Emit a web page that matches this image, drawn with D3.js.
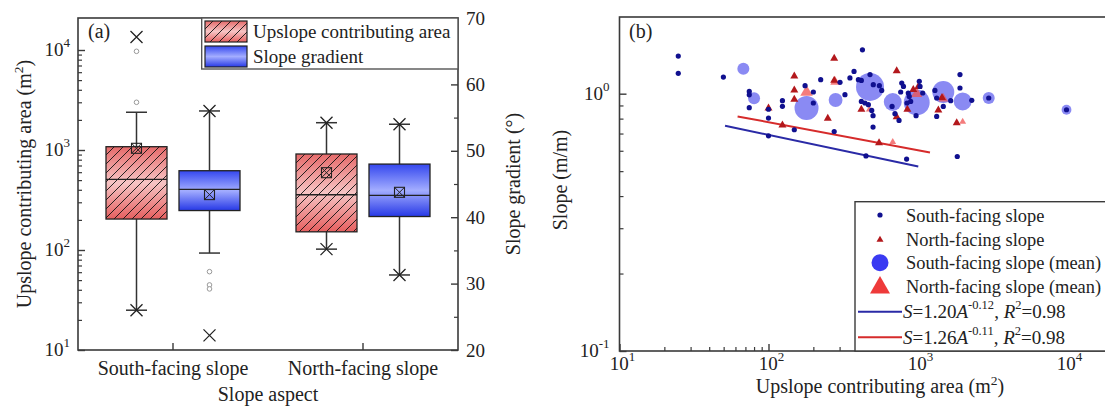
<!DOCTYPE html>
<html>
<head>
<meta charset="utf-8">
<script src="https://cdn.jsdelivr.net/npm/d3@7"></script>
<style>
  body { margin: 0; background: #fff; }
  text { font-family: "Liberation Serif", "Times New Roman", serif; fill: #222; }
</style>
</head>
<body>
<script>
// ---- panel (a) data: box statistics ----
const aspects = ['South-facing slope', 'North-facing slope'];

// upslope contributing area (m2), left log axis
const areaQ1 = [204, 152];
const areaMed = [509, 357];
const areaQ3 = [1079, 912];
const areaMean = [1040, 593];
const areaWhiskLo = [25, 102];
const areaWhiskHi = [2385, 1875];
const areaMin = [25, 102];
const areaMax = [13500, 1875];
const areaOutliers = [[9700, 3000], []];

// slope gradient (deg), right axis
const gradQ1 = [41.0, 40.1];
const gradMed = [44.2, 43.3];
const gradQ3 = [47.0, 48.0];
const gradMean = [43.4, 43.75];
const gradWhiskLo = [34.6, 31.3];
const gradWhiskHi = [56.0, 54.0];
const gradMin = [22.2, 31.3];
const gradMax = [56.0, 54.0];
const gradOutliers = [[31.8, 29.8, 29.2], []];

// ---- panel (b) data ----
const southA = [24.8, 24.8, 49.8, 74.3, 74.3, 74.3, 100, 100, 100, 124, 124, 149, 176, 200, 200, 224, 276, 302, 326, 352, 375, 401, 420, 427, 480, 505, 555, 575, 420, 444, 468, 493, 503, 503, 451, 675, 706, 752, 784, 805, 771, 867, 880, 900, 850, 1028, 1040, 1084, 978, 845, 1309, 1345, 1490, 1345, 1670, 1928, 1928, 2313, 1849, 3006, 10000];
const southS = [1.40, 1.20, 1.16, 1.02, 0.99, 0.882, 0.87, 0.804, 0.686, 0.939, 0.893, 0.724, 1.074, 1.015, 0.92, 1.134, 0.713, 1.107, 0.991, 1.151, 1.22, 1.134, 1.126, 1.48, 1.186, 1.084, 1.074, 1.03, 0.933, 0.92, 0.906, 0.861, 0.821, 0.742, 0.573, 0.892, 0.836, 0.787, 1.10, 1.067, 1.015, 1.006, 0.976, 0.933, 0.92, 1.117, 1.067, 1.006, 0.821, 0.557, 1.03, 0.962, 0.892, 0.816, 0.939, 1.186, 1.052, 0.942, 0.57, 0.962, 0.866];
const northA = [100, 149, 149, 149, 276, 250, 276, 725, 725, 855, 420, 124, 552, 937, 1012, 1380, 1833, 1460];
const northS = [0.882, 1.175, 1.036, 0.953, 1.377, 0.804, 1.13, 1.232, 0.816, 0.872, 0.872, 0.757, 0.646, 1.04, 1.07, 0.866, 0.773, 0.97];

const southMeanA = [67.8, 80, 180, 282, 480, 682, 988, 1490, 2010, 3006, 10000];
const southMeanS = [1.25, 0.96, 0.88, 0.945, 1.062, 0.928, 0.925, 1.015, 0.933, 0.962, 0.866];
const southMeanN = [9, 9, 36, 12, 49, 20, 42, 30, 20, 9, 6];
const northMeanA = [180, 280, 475, 682, 988, 1490, 2010];
const northMeanS = [1.02, 1.117, 0.872, 0.652, 1.006, 0.962, 0.78];
const northMeanN = [20, 12, 6, 6, 16, 12, 6];

// fitted lines, end points
const fitSouthA = [51.1, 1012];
const fitSouthS = [0.751, 0.521];
const fitNorthA = [62, 1213];
const fitNorthS = [0.816, 0.591];

const svg = d3.select('body').append('svg').attr('width', 1105).attr('height', 408);
const defs = svg.append('defs');

function vgrad(id, stops) {
  const g = defs.append('linearGradient').attr('id', id)
    .attr('x1', 0).attr('y1', 0).attr('x2', 0).attr('y2', 1);
  stops.forEach(s => g.append('stop').attr('offset', s[0]).attr('stop-color', s[1]));
}
vgrad('gradRed', [[0, '#e66a6a'], [0.5, '#f6c4c4'], [1, '#e65f5f']]);
vgrad('gradBlue', [[0, '#3447ee'], [0.5, '#a3adff'], [1, '#2638e6']]);

const hatch = defs.append('pattern').attr('id', 'hatch')
  .attr('patternUnits', 'userSpaceOnUse').attr('width', 9).attr('height', 9);
hatch.append('path').attr('d', 'M-2,2 L2,-2 M0,9 L9,0 M7,11 L11,7')
  .attr('stroke', '#111').attr('stroke-width', 0.9);

// superscript helpers (shifts in px so the baseline comes back exactly)
function sup(sel, txt, fs, up) {
  sel.append('tspan').attr('dy', -up).attr('font-size', fs).text(txt);
}
function pow10(sel, exp) {
  sel.append('tspan').text('10');
  sel.append('tspan').attr('dy', -9).attr('font-size', 13).text(exp);
}

const frameColor = '#3a3a3a';

// ================= panel (a) =================
const A = {left: 78, right: 458, top: 18, bottom: 350};
const xA = d3.scaleBand().domain(aspects).range([A.left, A.right]);
const yArea = d3.scaleLog().domain([10, Math.pow(10, 4.32)]).range([A.bottom, A.top]);
const yGrad = d3.scaleLinear().domain([20, 70]).range([A.bottom, A.top]);

const ga = svg.append('g');

const series = [
  {y: yArea, q1: areaQ1, med: areaMed, q3: areaQ3, mean: areaMean, lo: areaWhiskLo, hi: areaWhiskHi,
   min: areaMin, max: areaMax, out: areaOutliers, off: -36.5, fill: 'url(#gradRed)', hatch: true},
  {y: yGrad, q1: gradQ1, med: gradMed, q3: gradQ3, mean: gradMean, lo: gradWhiskLo, hi: gradWhiskHi,
   min: gradMin, max: gradMax, out: gradOutliers, off: 36.5, fill: 'url(#gradBlue)', hatch: false}
];
const bw = 61;

series.forEach(s => {
  aspects.forEach((asp, i) => {
    const cx = xA(asp) + xA.bandwidth() / 2 + s.off;
    const g = ga.append('g');
    // whiskers
    g.append('line').attr('x1', cx).attr('x2', cx).attr('y1', s.y(s.q3[i])).attr('y2', s.y(s.hi[i]))
      .attr('stroke', '#333').attr('stroke-width', 1.5);
    g.append('line').attr('x1', cx).attr('x2', cx).attr('y1', s.y(s.q1[i])).attr('y2', s.y(s.lo[i]))
      .attr('stroke', '#333').attr('stroke-width', 1.5);
    [s.lo[i], s.hi[i]].forEach(v => {
      g.append('line').attr('x1', cx - 10.5).attr('x2', cx + 10.5).attr('y1', s.y(v)).attr('y2', s.y(v))
        .attr('stroke', '#333').attr('stroke-width', 1.5);
    });
    // box
    const top = s.y(s.q3[i]), bot = s.y(s.q1[i]);
    g.append('rect').attr('x', cx - bw / 2).attr('y', top).attr('width', bw).attr('height', bot - top)
      .attr('fill', s.fill);
    if (s.hatch) {
      g.append('rect').attr('x', cx - bw / 2).attr('y', top).attr('width', bw).attr('height', bot - top)
        .attr('fill', 'url(#hatch)');
    }
    g.append('rect').attr('x', cx - bw / 2).attr('y', top).attr('width', bw).attr('height', bot - top)
      .attr('fill', 'none').attr('stroke', '#222').attr('stroke-width', 1.3);
    g.append('line').attr('x1', cx - bw / 2).attr('x2', cx + bw / 2)
      .attr('y1', s.y(s.med[i])).attr('y2', s.y(s.med[i])).attr('stroke', '#222').attr('stroke-width', 1.3);
    // mean marker
    const my = s.y(s.mean[i]);
    g.append('rect').attr('x', cx - 5).attr('y', my - 5).attr('width', 10).attr('height', 10)
      .attr('fill', 'none').attr('stroke', '#222').attr('stroke-width', 1.1);
    g.append('path').attr('d', `M${cx - 5},${my - 5}L${cx + 5},${my + 5}M${cx + 5},${my - 5}L${cx - 5},${my + 5}`)
      .attr('stroke', '#222').attr('stroke-width', 1);
    // min / max crosses
    [s.min[i], s.max[i]].forEach(v => {
      const yy = s.y(v);
      g.append('path').attr('d', `M${cx - 6},${yy - 6}L${cx + 6},${yy + 6}M${cx + 6},${yy - 6}L${cx - 6},${yy + 6}`)
        .attr('stroke', '#222').attr('stroke-width', 1.3);
    });
    // outliers
    s.out[i].forEach(v => {
      g.append('circle').attr('cx', cx).attr('cy', s.y(v)).attr('r', 2.3)
        .attr('fill', '#fff').attr('stroke', '#999').attr('stroke-width', 1);
    });
  });
});

// frame
ga.append('rect').attr('x', A.left).attr('y', A.top).attr('width', A.right - A.left).attr('height', A.bottom - A.top)
  .attr('fill', 'none').attr('stroke', frameColor).attr('stroke-width', 1.6);

// left axis ticks (inside)
const areaMajor = [10, 100, 1000, 10000];
const areaMinor = [];
[10, 100, 1000].forEach(d => { for (let k = 2; k <= 9; k++) areaMinor.push(d * k); });
ga.append('g').attr('transform', `translate(${A.left},0)`)
  .call(d3.axisLeft(yArea).tickValues(areaMajor).tickSize(-7).tickFormat(''))
  .call(g => g.select('.domain').remove())
  .call(g => g.selectAll('line').attr('stroke', frameColor).attr('stroke-width', 1.4));
ga.append('g').attr('transform', `translate(${A.left},0)`)
  .call(d3.axisLeft(yArea).tickValues(areaMinor).tickSize(-4).tickFormat(''))
  .call(g => g.select('.domain').remove())
  .call(g => g.selectAll('line').attr('stroke', frameColor).attr('stroke-width', 1.2));
ga.append('g').selectAll('text').data(areaMajor).join('text')
  .attr('x', A.left - 8).attr('y', d => yArea(d) + 6).attr('text-anchor', 'end').attr('font-size', 19)
  .each(function(d) { pow10(d3.select(this), String(Math.round(Math.log10(d)))); });

// right axis
ga.append('g').attr('transform', `translate(${A.right},0)`)
  .call(d3.axisRight(yGrad).tickValues(d3.range(20, 71, 10)).tickSize(-7).tickFormat(''))
  .call(g => g.select('.domain').remove())
  .call(g => g.selectAll('line').attr('stroke', frameColor).attr('stroke-width', 1.4));
ga.append('g').attr('transform', `translate(${A.right},0)`)
  .call(d3.axisRight(yGrad).tickValues(d3.range(25, 70, 10)).tickSize(-4).tickFormat(''))
  .call(g => g.select('.domain').remove())
  .call(g => g.selectAll('line').attr('stroke', frameColor).attr('stroke-width', 1.2));
ga.append('g').selectAll('text').data(d3.range(20, 71, 10)).join('text')
  .attr('x', A.right + 8).attr('y', d => yGrad(d) + 6.5).attr('font-size', 19).text(d => d);

// bottom axis
ga.append('g').attr('transform', `translate(0,${A.bottom})`)
  .call(d3.axisBottom(xA).tickSize(-7).tickFormat(''))
  .call(g => g.select('.domain').remove())
  .call(g => g.selectAll('line').attr('stroke', frameColor).attr('stroke-width', 1.4));
ga.append('g').selectAll('text').data(aspects).join('text')
  .attr('x', d => xA(d) + xA.bandwidth() / 2).attr('y', 375).attr('text-anchor', 'middle')
  .attr('font-size', 20).text(d => d);

ga.append('text').attr('x', (A.left + A.right) / 2).attr('y', 401).attr('text-anchor', 'middle')
  .attr('font-size', 20).text('Slope aspect');
const ta = ga.append('text').attr('transform', `translate(31,${(A.top + A.bottom) / 2}) rotate(-90)`)
  .attr('text-anchor', 'middle').attr('font-size', 20);
ta.append('tspan').text('Upslope contributing area (m');
sup(ta, '2', 13.5, 8);
ta.append('tspan').attr('dy', 8).text(')');
ga.append('text').attr('transform', `translate(520,${(A.top + A.bottom) / 2}) rotate(-90)`)
  .attr('text-anchor', 'middle').attr('font-size', 20).text('Slope gradient (°)');
ga.append('text').attr('x', 88).attr('y', 38).attr('font-size', 20).text('(a)');

// legend (a)
const la = ga.append('g');
la.append('rect').attr('x', 201.7).attr('y', A.top).attr('width', A.right - 201.7).attr('height', 51)
  .attr('fill', '#fff').attr('stroke', '#555').attr('stroke-width', 1.4);
const legA = [
  {label: 'Upslope contributing area', fill: 'url(#gradRed)', hatch: true},
  {label: 'Slope gradient', fill: 'url(#gradBlue)', hatch: false}
];
legA.forEach((d, i) => {
  const y0 = 21 + i * 25;
  la.append('rect').attr('x', 205).attr('y', y0).attr('width', 42).attr('height', 21).attr('fill', d.fill);
  if (d.hatch) la.append('rect').attr('x', 205).attr('y', y0).attr('width', 42).attr('height', 21).attr('fill', 'url(#hatch)');
  la.append('rect').attr('x', 205).attr('y', y0).attr('width', 42).attr('height', 21)
    .attr('fill', 'none').attr('stroke', '#222').attr('stroke-width', 1.2);
  la.append('text').attr('x', 253).attr('y', y0 + 16.5).attr('font-size', 19).text(d.label);
});

// ================= panel (b) =================
const B = {left: 619.5, top: 17, bottom: 351};
const xB = d3.scaleLog().domain([10, Math.pow(10, 4.3)]).range([B.left, B.left + 3.3 * 149]);
const yB = d3.scaleLog().domain([0.1, Math.pow(10, 0.298)]).range([B.bottom, B.top]);
const B_right = xB.range()[1];
const gb = svg.append('g');

const rMean = d3.scaleSqrt().domain([0, 49]).range([0, 14]);
function tri(s) {
  const h = s * 1.75;
  return `M0,${-h * 0.6}L${s},${h * 0.4}L${-s},${h * 0.4}Z`;
}

// fit lines
[[fitSouthA, fitSouthS, '#2a2aa6'], [fitNorthA, fitNorthS, '#d62b2b']].forEach(f => {
  gb.append('line').attr('x1', xB(f[0][0])).attr('y1', yB(f[1][0]))
    .attr('x2', xB(f[0][1])).attr('y2', yB(f[1][1]))
    .attr('stroke', f[2]).attr('stroke-width', 2);
});

// mean symbols
gb.append('g').selectAll('circle').data(d3.range(southMeanA.length)).join('circle')
  .attr('cx', i => xB(southMeanA[i])).attr('cy', i => yB(southMeanS[i])).attr('r', i => rMean(southMeanN[i]))
  .attr('fill', '#6d6df0').attr('fill-opacity', 0.8);
gb.append('g').selectAll('path').data(d3.range(northMeanA.length)).join('path')
  .attr('transform', i => `translate(${xB(northMeanA[i])},${yB(northMeanS[i])})`)
  .attr('d', i => tri(rMean(northMeanN[i]) * 0.7))
  .attr('fill', '#f05050').attr('fill-opacity', 0.75);

// individual points
gb.append('g').selectAll('path').data(d3.range(northA.length)).join('path')
  .attr('transform', i => `translate(${xB(northA[i])},${yB(northS[i])})`)
  .attr('d', tri(4)).attr('fill', '#b3181c');
gb.append('g').selectAll('circle').data(d3.range(southA.length)).join('circle')
  .attr('cx', i => xB(southA[i])).attr('cy', i => yB(southS[i])).attr('r', 2.6)
  .attr('fill', '#10108f');

// frame
gb.append('rect').attr('x', B.left).attr('y', B.top).attr('width', B_right - B.left).attr('height', B.bottom - B.top)
  .attr('fill', 'none').attr('stroke', frameColor).attr('stroke-width', 1.6);

// axes (inside ticks)
const xMajor = [10, 100, 1000, 10000];
const xMinor = [];
[10, 100, 1000].forEach(d => { for (let k = 2; k <= 9; k++) xMinor.push(d * k); });
gb.append('g').attr('transform', `translate(0,${B.bottom})`)
  .call(d3.axisBottom(xB).tickValues(xMajor).tickSize(-7).tickFormat(''))
  .call(g => g.select('.domain').remove())
  .call(g => g.selectAll('line').attr('stroke', frameColor).attr('stroke-width', 1.4));
gb.append('g').attr('transform', `translate(0,${B.bottom})`)
  .call(d3.axisBottom(xB).tickValues(xMinor).tickSize(-4).tickFormat(''))
  .call(g => g.select('.domain').remove())
  .call(g => g.selectAll('line').attr('stroke', frameColor).attr('stroke-width', 1.2));
gb.append('g').selectAll('text').data(xMajor).join('text')
  .attr('x', d => xB(d) + 3).attr('y', 370).attr('text-anchor', 'middle').attr('font-size', 19)
  .each(function(d) { pow10(d3.select(this), String(Math.round(Math.log10(d)))); });

const yMajor = [0.1, 1];
const yMinor = [0.2, 0.3, 0.4, 0.5, 0.6, 0.7, 0.8, 0.9];
gb.append('g').attr('transform', `translate(${B.left},0)`)
  .call(d3.axisLeft(yB).tickValues(yMajor).tickSize(-7).tickFormat(''))
  .call(g => g.select('.domain').remove())
  .call(g => g.selectAll('line').attr('stroke', frameColor).attr('stroke-width', 1.4));
gb.append('g').attr('transform', `translate(${B.left},0)`)
  .call(d3.axisLeft(yB).tickValues(yMinor).tickSize(-4).tickFormat(''))
  .call(g => g.select('.domain').remove())
  .call(g => g.selectAll('line').attr('stroke', frameColor).attr('stroke-width', 1.2));
gb.append('g').selectAll('text').data(yMajor).join('text')
  .attr('x', B.left - 10).attr('y', d => yB(d) + 6).attr('text-anchor', 'end').attr('font-size', 19)
  .each(function(d) { pow10(d3.select(this), d === 1 ? '0' : '-1'); });

const tbx = gb.append('text').attr('x', 880).attr('y', 393).attr('text-anchor', 'middle').attr('font-size', 20);
tbx.append('tspan').text('Upslope contributing area (m');
sup(tbx, '2', 13.5, 8);
tbx.append('tspan').attr('dy', 8).text(')');
gb.append('text').attr('transform', `translate(567,${(B.top + B.bottom) / 2 - 4}) rotate(-90)`)
  .attr('text-anchor', 'middle').attr('font-size', 20).text('Slope (m/m)');
gb.append('text').attr('x', 629).attr('y', 38).attr('font-size', 20).text('(b)');

// legend (b)
const lb = gb.append('g');
lb.append('rect').attr('x', 855).attr('y', 201.7).attr('width', 300).attr('height', B.bottom - 201.7)
  .attr('fill', '#fff').attr('stroke', frameColor).attr('stroke-width', 1.4);
const rowY = [215, 239.3, 262.7, 286.5, 311.7, 337.3];
const sx = 880, tx = 906;
lb.append('circle').attr('cx', sx).attr('cy', rowY[0]).attr('r', 2.6).attr('fill', '#10108f');
lb.append('path').attr('transform', `translate(${sx},${rowY[1]})`).attr('d', tri(3.5)).attr('fill', '#b3181c');
lb.append('circle').attr('cx', sx).attr('cy', rowY[2]).attr('r', 8.5).attr('fill', '#3a3af2');
lb.append('path').attr('transform', `translate(${sx},${rowY[3]})`).attr('d', tri(10)).attr('fill', '#ee3a3a');
lb.append('line').attr('x1', 858).attr('x2', 902).attr('y1', rowY[4]).attr('y2', rowY[4])
  .attr('stroke', '#2a2aa6').attr('stroke-width', 2);
lb.append('line').attr('x1', 858).attr('x2', 902).attr('y1', rowY[5]).attr('y2', rowY[5])
  .attr('stroke', '#d62b2b').attr('stroke-width', 2);
['South-facing slope', 'North-facing slope', 'South-facing slope (mean)', 'North-facing slope (mean)']
  .forEach((t, i) => lb.append('text').attr('x', tx).attr('y', rowY[i] + 6.5).attr('font-size', 18.4).text(t));
const fitLabels = [['1.20', '-0.12', '0.98'], ['1.26', '-0.11', '0.98']];
fitLabels.forEach((f, i) => {
  const t = lb.append('text').attr('x', 903).attr('y', rowY[4 + i] + 6.5).attr('font-size', 19);
  t.append('tspan').attr('font-style', 'italic').text('S');
  t.append('tspan').text('=' + f[0]);
  t.append('tspan').attr('font-style', 'italic').text('A');
  sup(t, f[1], 12.5, 9);
  t.append('tspan').attr('dy', 9).text(', ');
  t.append('tspan').attr('font-style', 'italic').text('R');
  sup(t, '2', 12.5, 9);
  t.append('tspan').attr('dy', 9).text('=' + f[2]);
});
</script>
</body>
</html>
